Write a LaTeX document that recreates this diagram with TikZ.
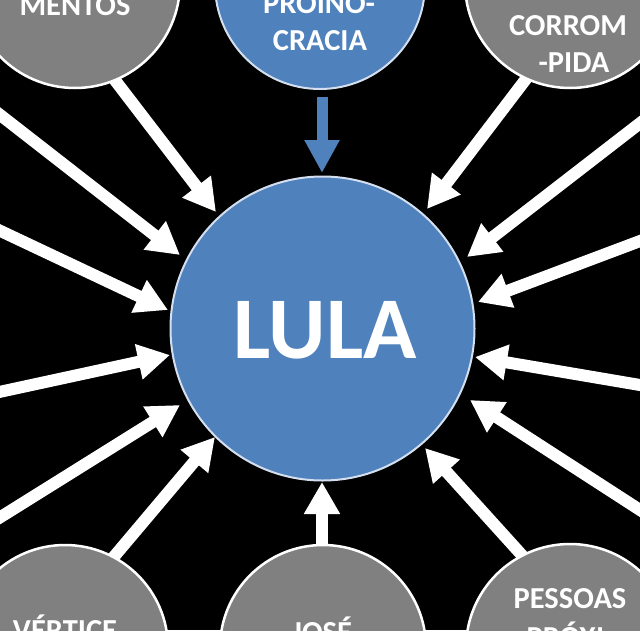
\documentclass[tikz,border=0pt]{standalone}
\usepackage{fontspec}
\setmainfont{Carlito}
\usetikzlibrary{arrows.meta}
\definecolor{lulablue}{HTML}{4F81BD}
\definecolor{circgray}{HTML}{808080}
\begin{document}
\begin{tikzpicture}[x=1pt,y=-1pt,
  arr/.style={line width=12pt, white, line cap=butt, -{Triangle[width=34pt,length=32pt]}},
  barr/.style={line width=11pt, lulablue, line cap=butt, -{Triangle[width=33pt,length=33pt]}},
  graycirc/.style={circle, fill=circgray, draw=white, line width=2.5pt, inner sep=0pt},
  bluecirc/.style={circle, fill=lulablue, draw=white!75!lulablue, line width=2pt, inner sep=0pt},
  lbl/.style={text=white, font=\bfseries\fontsize{30.5}{36}\selectfont, anchor=base, inner sep=0pt}]
\useasboundingbox (0,0) rectangle (640,630);
\fill[black] (0,0) rectangle (640,630);
\clip (0,0) rectangle (640,630);
% arrow end points
\coordinate (s1) at (111,75);    \coordinate (t1) at (216,212);
\coordinate (s2) at (-10,107);   \coordinate (t2) at (180,255);
\coordinate (s3) at (-10,226);   \coordinate (t3) at (168,310);
\coordinate (s4) at (-10,394);   \coordinate (t4) at (170,355);
\coordinate (s5) at (-9,523);    \coordinate (t5) at (180,405);
\coordinate (s6) at (111.5,559.6); \coordinate (t6) at (215,437);
\coordinate (s7) at (322,560);   \coordinate (t7) at (322,482);
\coordinate (s8) at (526.7,560.4); \coordinate (t8) at (425,448);
\coordinate (s9) at (648.4,515.4); \coordinate (t9) at (470,400);
\coordinate (s10) at (650,386.7); \coordinate (t10) at (475,357);
\coordinate (s11) at (649.4,237.5); \coordinate (t11) at (478,302);
\coordinate (s12) at (648,117);  \coordinate (t12) at (467,257);
\coordinate (s13) at (529,75);   \coordinate (t13) at (427,209);
\coordinate (s14) at (322,97);   \coordinate (t14) at (322,173);
% arrows
\foreach \i in {1,...,13} \draw[arr] (s\i) -- (t\i);
\draw[barr] (s14) -- (t14);
% circles
\node[bluecirc, minimum size=304pt] (lula) at (322.5,328.5) {};
\node[bluecirc, minimum size=210pt] (proino) at (320,-16) {};
\node[graycirc, minimum size=210pt] (mentos) at (75,-17) {};
\node[graycirc, minimum size=210pt] (corrom) at (570,-17) {};
\node[graycirc, minimum size=206pt] (vertice) at (65,648) {};
\node[graycirc, minimum size=206pt] (jose) at (323,648) {};
\node[graycirc, minimum size=208pt] (pessoas) at (570,648) {};
% texts
\node[lbl, font=\bfseries\fontsize{88}{100}\selectfont] (tlula) at (325,358) {LULA};
\node[lbl] (tmentos) at (75,15) {MENTOS};
\node[lbl] (tproino) at (319,13) {PROINO-};
\node[lbl] (tcracia) at (320,50) {CRACIA};
\node[lbl] (tcorrom) at (568,35) {CORROM};
\node[lbl] (tpida) at (574,72) {-PIDA};
\node[lbl] (tvertice) at (65,640) {VÉRTICE};
\node[lbl] (tjose) at (322,642) {JOSÉ};
\node[lbl] (tpessoas) at (570,608) {PESSOAS};
\node[lbl] (tproxi) at (570,647) {PRÓXI-};
\end{tikzpicture}
\end{document}
